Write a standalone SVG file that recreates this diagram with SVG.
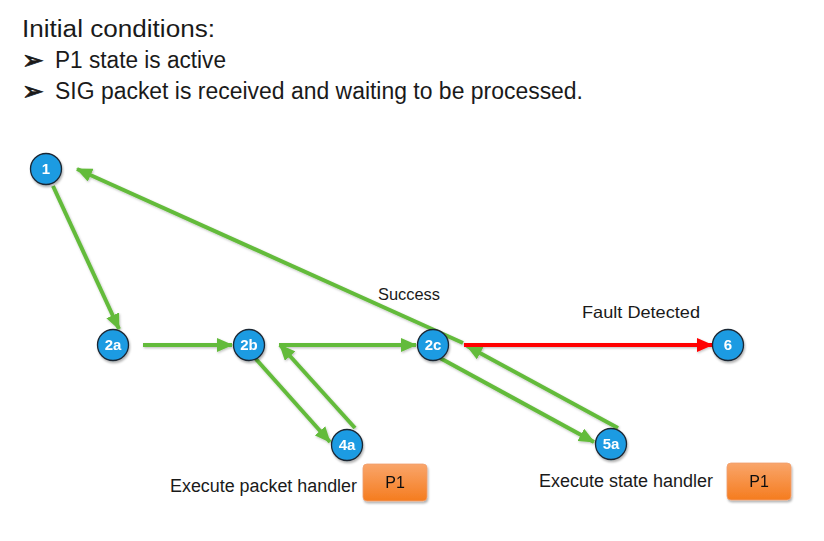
<svg xmlns="http://www.w3.org/2000/svg" width="824" height="541" viewBox="0 0 824 541">
<style>
.t{font-family:"Liberation Sans",Arial,sans-serif;fill:#1a1a1a}
.title{font-size:23px}
.bul{font-family:"DejaVu Sans",sans-serif;font-size:26px;fill:#1a1a1a;stroke:#1a1a1a;stroke-width:0.8}
.lbl{font-size:16.5px}
.big{font-size:18px}
.node circle{fill:#1E9BE2;stroke:#1b2733;stroke-width:1.3}
.node text{font-family:"Liberation Sans",Arial,sans-serif;font-weight:bold;font-size:15px;fill:#fff;text-anchor:middle}
.g{stroke:#63BB3B;stroke-width:4;fill:none;marker-end:url(#ag)}
.r{stroke:#FF0000;stroke-width:4;fill:none;marker-end:url(#ar)}
.box rect{fill:url(#og);stroke:#f0a070;stroke-width:0.8}
.box text{font-family:"Liberation Sans",Arial,sans-serif;font-size:16px;fill:#111;text-anchor:middle}
</style>
<defs>
<marker id="ag" markerUnits="userSpaceOnUse" markerWidth="16" markerHeight="14" refX="15" refY="7" orient="auto">
<path d="M0,0 L16,7 L0,14 Z" fill="#63BB3B"/>
</marker>
<marker id="ar" markerUnits="userSpaceOnUse" markerWidth="16" markerHeight="14" refX="15" refY="7" orient="auto">
<path d="M0,0 L16,7 L0,14 Z" fill="#FF0000"/>
</marker>
<linearGradient id="og" x1="0" y1="0" x2="0" y2="1">
<stop offset="0" stop-color="#F9A56A"/>
<stop offset="1" stop-color="#F57C1F"/>
</linearGradient>
<filter id="sh" x="-20%" y="-20%" width="140%" height="150%">
<feDropShadow dx="1" dy="2" stdDeviation="1.2" flood-color="#000" flood-opacity="0.3"/>
</filter>
<filter id="ls" x="-5%" y="-5%" width="110%" height="110%">
<feDropShadow dx="0.8" dy="1.2" stdDeviation="0.8" flood-color="#000" flood-opacity="0.25"/>
</filter>
</defs>
<rect width="824" height="541" fill="#fff"/>

<g id="header">
<text class="t title" x="22" y="37" textLength="193" lengthAdjust="spacingAndGlyphs">Initial conditions:</text>
<text class="bul" x="22" y="69">➢</text>
<text class="t title" x="55" y="68" textLength="171" lengthAdjust="spacingAndGlyphs">P1 state is active</text>
<text class="bul" x="22" y="100">➢</text>
<text class="t title" x="55" y="99" textLength="528" lengthAdjust="spacingAndGlyphs">SIG packet is received and waiting to be processed.</text>
</g>

<g id="connectors" filter="url(#ls)">
<line class="g" x1="463" y1="343" x2="77" y2="169"/>
<line class="g" x1="53" y1="186" x2="119" y2="329"/>
<line class="g" x1="143" y1="345" x2="232" y2="345"/>
<line class="g" x1="279" y1="345" x2="416" y2="345"/>
<line class="g" x1="255" y1="358" x2="330" y2="442"/>
<line class="g" x1="355" y1="428" x2="280" y2="345"/>
<line class="g" x1="440" y1="358" x2="594" y2="442"/>
<line class="g" x1="618" y1="428" x2="467" y2="346"/>
<line class="r" x1="464" y1="345" x2="712" y2="345"/>
</g>

<g id="labels">
<text class="t lbl" x="378" y="300" textLength="62" lengthAdjust="spacingAndGlyphs">Success</text>
<text class="t lbl" x="582" y="318" textLength="118" lengthAdjust="spacingAndGlyphs">Fault Detected</text>
<text class="t big" x="170" y="492" textLength="187" lengthAdjust="spacingAndGlyphs">Execute packet handler</text>
<text class="t big" x="539" y="487" textLength="174" lengthAdjust="spacingAndGlyphs">Execute state handler</text>
</g>

<g id="n1" class="node" filter="url(#sh)"><circle cx="46" cy="169" r="15.5"/><text x="46" y="174">1</text></g>
<g id="n2a" class="node" filter="url(#sh)"><circle cx="113" cy="345" r="15.5"/><text x="113" y="350">2a</text></g>
<g id="n2b" class="node" filter="url(#sh)"><circle cx="249" cy="345" r="15.5"/><text x="249" y="350">2b</text></g>
<g id="n2c" class="node" filter="url(#sh)"><circle cx="433" cy="345" r="15.5"/><text x="433" y="350">2c</text></g>
<g id="n6" class="node" filter="url(#sh)"><circle cx="728" cy="345" r="15.5"/><text x="728" y="350">6</text></g>
<g id="n4a" class="node" filter="url(#sh)"><circle cx="347" cy="445" r="15.5"/><text x="347" y="450">4a</text></g>
<g id="n5a" class="node" filter="url(#sh)"><circle cx="611" cy="444" r="15.5"/><text x="611" y="449">5a</text></g>

<g id="p1a" class="box" filter="url(#sh)"><rect x="363" y="464" width="64" height="37" rx="4"/><text x="395" y="488">P1</text></g>
<g id="p1b" class="box" filter="url(#sh)"><rect x="727" y="463" width="64" height="37" rx="4"/><text x="759" y="487">P1</text></g>
</svg>
